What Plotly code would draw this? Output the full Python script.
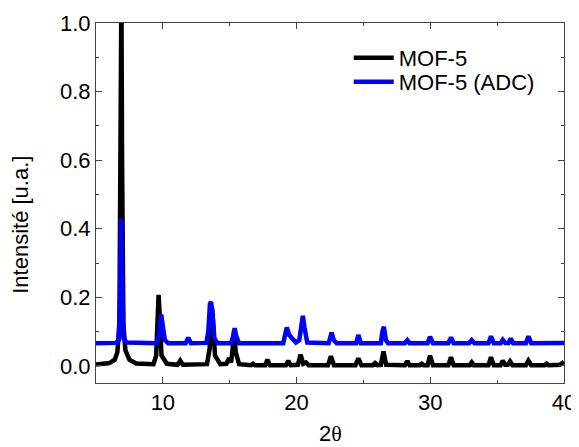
import plotly.graph_objects as go

# MOF-5 pattern (2theta, normalised intensity)
mof5_x = [5, 6.0, 6.4, 6.6, 6.75, 6.85, 6.9, 6.95, 7.05, 7.2, 7.5, 8.0,
          9.3, 9.5, 9.6, 9.68, 9.76, 9.9, 10.3, 11.1, 11.3, 11.5,
          13.3, 13.5, 13.6, 13.67, 13.75, 13.9, 14.3, 14.75, 14.95, 15.1,
          15.2, 15.32, 15.45, 15.7, 16.6, 16.75, 16.9, 17.65, 17.82, 18.0,
          19.2, 19.38, 19.55, 20.1, 20.3, 20.5, 20.7, 20.9, 22.35, 22.57, 22.8,
          24.4, 24.62, 24.85, 25.7, 25.87, 26.05, 26.3, 26.5, 26.7,
          28.1, 28.28, 28.45, 29.2, 29.36, 29.5, 29.8, 29.98, 30.2,
          31.35, 31.55, 31.75, 32.95, 33.1, 33.25, 34.35, 34.54, 34.75,
          35.25, 35.42, 35.6, 35.8, 35.97, 36.15, 37.15, 37.34, 37.55,
          38.55, 38.7, 38.85, 39.7, 40]
mof5_y = [0.004, 0.008, 0.018, 0.04, 0.12, 0.6, 1.1, 0.6, 0.12, 0.045, 0.018, 0.007,
          0.005, 0.03, 0.15, 0.207, 0.15, 0.03, 0.006, 0.003, 0.015, 0.003,
          0.005, 0.05, 0.15, 0.17, 0.13, 0.03, 0.005, 0.006, 0.022, 0.01,
          0.04, 0.1, 0.04, 0.005, 0.002, 0.006, 0.002, 0.002, 0.018, 0.002,
          0.002, 0.015, 0.002, 0.003, 0.033, 0.006, 0.01, 0.002, 0.002, 0.028, 0.002,
          0.002, 0.022, 0.002, 0.002, 0.008, 0.002, 0.003, 0.042, 0.003,
          0.002, 0.014, 0.002, 0.002, 0.006, 0.002, 0.002, 0.03, 0.002,
          0.002, 0.025, 0.002, 0.002, 0.01, 0.002, 0.002, 0.025, 0.002,
          0.002, 0.015, 0.003, 0.003, 0.013, 0.002, 0.002, 0.015, 0.002,
          0.002, 0.006, 0.002, 0.003, 0.012]

# MOF-5 (ADC) pattern
adc_x = [5, 6.5, 6.7, 6.8, 6.88, 6.96, 7.05, 7.3,
         9.5, 9.7, 9.8, 9.88, 9.98, 10.15, 10.4, 11.7, 11.9, 12.1,
         13.25, 13.4, 13.52, 13.6, 13.7, 13.85, 14.1, 15.1, 15.25, 15.37, 15.5, 15.7,
         19.0, 19.15, 19.27, 19.45, 19.75, 19.95, 20.2, 20.35, 20.47, 20.6, 20.8,
         22.4, 22.5, 22.62, 22.78, 23.0, 24.45, 24.62, 24.8,
         26.3, 26.42, 26.53, 26.68, 26.85, 28.1, 28.28, 28.45,
         29.8, 29.98, 30.2, 31.35, 31.55, 31.75, 32.9, 33.1, 33.3,
         34.35, 34.54, 34.75, 35.25, 35.42, 35.6, 35.85, 36.02, 36.2,
         37.15, 37.34, 37.55, 40]
adc_y = [0.066, 0.067, 0.075, 0.2, 0.43, 0.2, 0.08, 0.068,
         0.066, 0.085, 0.14, 0.15, 0.12, 0.075, 0.066, 0.066, 0.082, 0.066,
         0.067, 0.1, 0.18, 0.187, 0.16, 0.08, 0.066, 0.066, 0.085, 0.11, 0.085, 0.066,
         0.066, 0.09, 0.112, 0.09, 0.078, 0.068, 0.075, 0.13, 0.146, 0.11, 0.068,
         0.066, 0.085, 0.097, 0.075, 0.066, 0.066, 0.09, 0.066,
         0.066, 0.1, 0.114, 0.075, 0.066, 0.066, 0.075, 0.066,
         0.066, 0.085, 0.066, 0.066, 0.083, 0.066, 0.066, 0.075, 0.066,
         0.066, 0.086, 0.066, 0.066, 0.076, 0.067, 0.067, 0.08, 0.066,
         0.066, 0.086, 0.066, 0.067]

series_names = ["MOF-5", "MOF-5 (ADC)"]
series_colors = ["#000000", "#0000FF"]

x_ticks = [10, 20, 30, 40]
y_ticks = [0.0, 0.2, 0.4, 0.6, 0.8, 1.0]
y_tick_text = ["0.0", "0.2", "0.4", "0.6", "0.8", "1.0"]

FONT = "Liberation Sans, Arial, sans-serif"
SERIF = "Liberation Serif, DejaVu Serif, serif"
FS = 22

fig = go.Figure()
for xs, ys, name, col, leg in [(mof5_x, mof5_y, series_names[0], series_colors[0], "legend"),
                               (adc_x, adc_y, series_names[1], series_colors[1], "legend2")]:
    fig.add_trace(go.Scatter(x=xs, y=ys, mode="lines", name=name, legend=leg,
                             line=dict(color=col, width=4.5)))

axis_common = dict(showline=True, linecolor="#444", linewidth=1, mirror="ticks",
                   ticks="inside", ticklen=6, tickwidth=1, tickcolor="#444",
                   showgrid=False, zeroline=False, automargin=False,
                   tickfont=dict(family=FONT, size=FS, color="#000"))

legend_common = dict(xanchor="left", yanchor="middle", bgcolor="rgba(0,0,0,0)",
                     font=dict(family=FONT, size=FS), itemwidth=40)

fig.update_layout(
    width=571, height=439,
    margin=dict(l=88, r=15, t=15, b=64),
    paper_bgcolor="white", plot_bgcolor="white",
    font=dict(family=FONT, size=FS, color="#000"),
    xaxis=dict(range=[5, 40], tickvals=x_ticks,
               minor=dict(dtick=5, tick0=0, ticks="inside", ticklen=3, tickcolor="#444"),
               **axis_common),
    yaxis=dict(range=[-0.05, 1.0], tickvals=y_ticks, ticktext=y_tick_text,
               minor=dict(dtick=0.1, tick0=0, ticks="inside", ticklen=3, tickcolor="#444"),
               **axis_common),
    legend=dict(x=0.54, y=0.903, **legend_common),
    legend2=dict(x=0.54, y=0.836, **legend_common),
    showlegend=True,
    annotations=[
        dict(text="2<span style='font-family:" + SERIF + "'>θ</span>",
             xref="paper", yref="paper", x=0.5, y=-0.139,
             xanchor="center", yanchor="middle", showarrow=False,
             font=dict(family=FONT, size=FS)),
        dict(text="Intensité [u.a.]", xref="paper", yref="paper", x=-0.162, y=0.44,
             xanchor="center", yanchor="middle", showarrow=False, textangle=-90,
             font=dict(family=FONT, size=FS)),
    ],
)

fig.write_html("out.html")
